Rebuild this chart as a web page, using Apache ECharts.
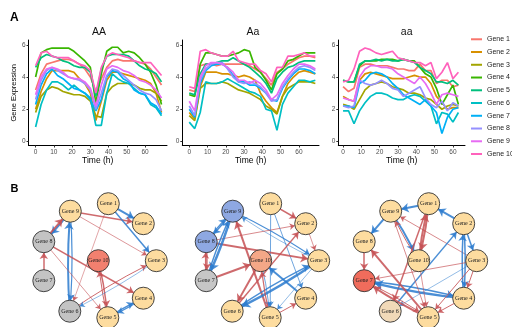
<!DOCTYPE html>
<html><head><meta charset="utf-8">
<script src="https://cdn.jsdelivr.net/npm/echarts@6/dist/echarts.min.js"></script>
<style>html,body{margin:0;padding:0;background:#fff}#c{width:512px;height:327px}</style>
</head><body><div id="c"></div>
<script>
// ---------- data ----------
const genes = ['Gene 1','Gene 2','Gene 3','Gene 4','Gene 5','Gene 6','Gene 7','Gene 8','Gene 9','Gene 10'];
const geneColors = ['#F8766D','#D89000','#A3A500','#39B600','#00BF7D','#00BFC4','#00B0F6','#9590FF','#E76BF3','#FF62BC'];
const panelTitles = ['AA','Aa','aa'];
const xTickValues = [0,10,20,30,40,50,60];
const yTickValues = [0,2,4,6];

const timesAA = [0,3,6,9,12,15,18,21,24,27,30,33,36,39,42,45,48,51,54,57,60,63,66,69];
const timesAa = [0,3,6,9,12,15,18,21,24,27,30,33,36,39,42,45,48,51,54,57,60,63,66,69];
const timesaa = [0,3,6,9,12,15,18,21,24,27,30,33,36,39,42,45,48,51,54,57,60,63];

const exprAA = [
  [3.2,4.2,4.8,4.9,5.0,5.1,5.1,5.0,4.8,4.5,4.0,3.1,3.9,4.6,5.0,5.1,5.0,5.0,5.0,4.9,4.8,4.5,4.0,3.5],
  [2.0,3.1,3.9,4.4,4.4,4.4,4.4,4.3,3.9,3.6,3.0,1.3,2.5,3.8,4.3,4.3,4.2,4.1,4.0,3.9,3.8,3.6,3.0,1.8],
  [1.8,2.8,3.2,3.4,3.3,3.1,3.0,2.9,2.9,2.8,2.5,1.6,1.5,3.0,3.4,3.6,3.6,3.6,3.5,3.3,3.2,3.2,3.0,2.5],
  [4.0,5.5,5.7,5.8,5.8,5.8,5.8,5.6,5.3,5.0,4.6,2.4,4.2,5.6,5.85,5.85,5.5,5.6,5.5,5.2,4.8,4.3,3.5,2.3],
  [4.6,5.2,5.4,5.3,5.2,5.0,4.9,4.7,4.6,4.6,4.3,2.8,4.5,5.3,5.4,5.4,5.4,5.3,5.0,4.7,4.5,4.4,4.2,3.7],
  [0.9,2.3,3.2,3.7,3.7,3.5,3.2,3.5,3.2,3.0,2.7,1.0,1.0,3.0,4.2,3.9,3.7,3.6,3.3,3.0,2.9,2.3,2.1,1.6],
  [2.3,3.5,4.2,4.5,4.1,3.9,3.6,3.3,3.2,3.0,2.6,1.9,2.6,4.0,4.4,4.3,3.9,3.7,3.2,3.0,2.9,2.4,2.2,1.7],
  [2.6,3.8,4.4,4.6,4.4,4.2,4.0,3.9,3.8,3.6,3.2,2.0,3.0,4.1,4.5,4.4,4.1,3.8,3.5,3.2,3.0,2.9,2.6,1.9],
  [2.9,4.0,4.5,4.6,4.5,4.3,4.0,3.9,3.9,3.7,3.3,2.2,3.5,4.5,4.7,4.6,4.4,4.3,4.1,3.8,3.7,3.5,3.2,2.7],
  [4.7,5.5,5.6,5.3,5.2,5.2,5.2,5.0,4.8,4.7,4.4,3.0,4.6,5.3,5.5,5.4,5.3,5.2,5.0,4.9,4.9,4.9,4.5,4.1]
];
const exprAa = [
  [3.2,3.1,4.7,4.8,4.8,4.7,4.8,4.8,4.8,4.8,4.8,4.7,4.5,4.3,3.9,3.5,4.3,4.5,4.8,5.0,5.2,5.3,5.3,5.2],
  [1.8,1.4,3.4,4.3,4.3,4.3,4.2,4.2,4.1,4.0,4.1,4.0,3.8,3.0,2.5,2.1,1.8,2.8,3.6,4.0,4.3,4.4,4.3,4.2],
  [1.6,1.3,3.3,3.6,3.6,3.6,3.7,3.6,3.4,3.2,3.1,3.0,2.8,2.6,2.2,2.0,1.7,2.8,3.3,3.5,3.7,3.7,3.7,3.6],
  [2.9,2.8,4.8,5.5,5.5,5.4,5.3,5.3,5.4,5.5,5.7,5.6,4.6,4.3,3.8,3.2,4.2,4.5,5.0,5.1,5.3,5.5,5.5,5.5],
  [3.0,2.9,4.2,4.8,4.8,4.9,5.0,5.0,5.2,5.0,4.8,4.6,4.3,4.0,3.6,3.0,3.9,4.3,4.6,4.7,4.9,5.0,5.0,5.0],
  [1.2,0.8,1.8,3.7,3.6,3.6,3.7,3.9,3.7,3.5,3.3,3.1,3.0,2.8,2.0,1.9,0.7,2.3,3.0,3.4,3.8,3.8,3.7,3.8],
  [2.0,1.5,3.6,4.4,4.7,4.8,4.8,4.6,4.1,3.7,3.7,3.5,3.5,3.3,3.0,2.6,2.5,3.3,3.8,4.2,4.5,4.5,4.4,4.2],
  [2.2,1.6,3.8,4.5,4.8,4.9,4.9,4.5,4.0,3.7,3.6,3.7,3.6,3.4,3.0,2.5,2.6,3.4,3.9,4.3,4.6,4.7,4.6,4.4],
  [2.5,1.9,4.0,4.7,4.9,4.9,4.8,4.6,4.3,3.8,3.8,3.6,3.8,3.6,3.2,2.6,2.9,3.6,4.1,4.5,4.8,4.8,4.7,4.5],
  [3.4,3.3,5.6,5.7,5.5,5.4,5.3,5.3,5.6,5.0,4.9,4.8,4.8,4.4,4.2,3.7,4.6,4.6,5.3,5.3,5.4,5.5,5.3,5.3]
];
const expraa = [
  [3.4,3.1,3.3,4.6,4.8,4.8,4.7,4.7,4.7,4.6,4.5,4.5,4.4,4.4,4.8,4.4,4.4,3.6,3.8,3.8,3.4,3.5],
  [2.8,2.6,2.5,3.8,4.2,4.3,4.2,4.1,4.0,3.9,3.9,3.9,4.0,4.1,4.0,4.0,3.6,2.8,2.4,2.0,2.1,2.1],
  [2.3,2.2,2.0,2.6,3.2,3.5,3.6,3.7,3.6,3.4,3.3,3.2,3.0,3.0,2.9,2.7,2.6,2.3,2.0,2.2,2.3,2.2],
  [3.8,3.7,3.7,4.7,5.0,5.0,5.0,5.1,5.1,5.1,5.0,5.1,5.0,5.0,4.6,4.2,4.0,3.3,2.3,2.9,3.5,2.3],
  [3.8,3.7,3.7,4.8,5.0,5.0,5.1,5.0,5.1,5.0,5.0,5.1,5.0,4.9,4.6,4.4,4.2,3.7,3.7,3.6,3.8,3.5],
  [1.9,1.9,1.1,1.9,2.4,2.8,3.0,3.0,2.9,2.7,2.6,2.6,2.8,2.9,2.8,2.5,2.2,1.1,1.8,1.7,1.2,1.8],
  [2.2,2.2,2.1,3.6,3.8,4.2,4.3,4.2,4.0,3.6,3.3,2.9,2.7,2.5,2.3,2.6,2.2,1.8,0.5,1.5,2.0,2.1],
  [2.2,2.1,2.2,3.8,3.6,3.5,3.6,3.8,3.6,3.3,3.2,2.8,3.0,3.2,3.4,2.7,2.3,2.1,2.5,1.9,2.4,2.2],
  [2.7,2.6,2.5,4.0,4.5,4.7,4.7,4.6,4.6,4.5,4.2,4.0,3.8,3.6,4.0,3.6,3.0,2.3,2.9,3.0,2.9,2.8],
  [3.7,3.8,4.5,5.6,5.8,5.7,5.5,5.4,5.5,5.6,5.2,5.1,5.0,4.9,4.9,4.7,4.9,3.9,4.3,4.9,3.9,4.3]
];

// network node layout (same ring layout in all three networks)
const nodeLayoutX = [10, 45, 58, 45, 9.5, -28.5, -54.5, -54.5, -28, 0];
const nodeLayoutY = [-57, -37, 0, 37.5, 57, 50.5, 20, -19, -49.5, 0];
const nodeColorsAA = ['#FDDC9F','#FDDC9F','#FDDC9F','#FDDC9F','#FDDC9F','#C3C3C3','#C3C3C3','#C3C3C3','#FDDC9F','#F2806F'];
const nodeColorsAa = ['#FDDC9F','#FDDC9F','#FDDC9F','#FDDC9F','#FDDC9F','#FDDC9F','#C6C6C6','#8EA8E2','#8EA8E2','#F4A787'];
const nodeColorsaa = ['#FDDC9F','#FDDC9F','#FDDC9F','#FDDC9F','#FDDC9F','#F1D9B8','#F06C5C','#FDDC9F','#FDDC9F','#FDDC9F'];
// edges: [source, target, sign (+1 red / -1 blue), strength]
const edgesAA = [
  ['Gene 1','Gene 2',-1,2],['Gene 9','Gene 2',1,1.5],['Gene 1','Gene 3',-1,1.5],['Gene 1','Gene 6',1,0.6],
  ['Gene 9','Gene 3',1,0.7],['Gene 9','Gene 8',-1,2],['Gene 8','Gene 9',1,2],['Gene 6','Gene 9',-1,2],
  ['Gene 9','Gene 6',-1,1.2],['Gene 7','Gene 8',1,1.5],['Gene 8','Gene 4',1,1.5],['Gene 8','Gene 5',1,0.7],
  ['Gene 10','Gene 5',1,1.5],['Gene 5','Gene 10',1,1],['Gene 5','Gene 4',-1,1.5],['Gene 4','Gene 5',-1,1.2],
  ['Gene 6','Gene 3',1,1],['Gene 3','Gene 6',-1,0.6]
];
const edgesAa = [
  ['Gene 1','Gene 2',1,1.5],['Gene 1','Gene 5',-1,0.8],['Gene 1','Gene 4',-1,0.8],['Gene 9','Gene 3',-1,1.2],
  ['Gene 3','Gene 9',-1,0.6],['Gene 8','Gene 2',1,0.8],['Gene 8','Gene 3',1,2],['Gene 9','Gene 8',-1,1.5],
  ['Gene 8','Gene 9',-1,1.2],['Gene 9','Gene 7',-1,2.5],['Gene 7','Gene 9',-1,1.5],['Gene 8','Gene 7',1,1.5],
  ['Gene 7','Gene 8',1,1.2],['Gene 7','Gene 10',1,2],['Gene 5','Gene 9',1,2],['Gene 10','Gene 6',1,2],
  ['Gene 6','Gene 2',1,1.5],['Gene 3','Gene 6',-1,2.5],['Gene 6','Gene 3',-1,1.5],['Gene 4','Gene 10',-1,2],
  ['Gene 3','Gene 5',-1,0.6],['Gene 5','Gene 4',1,1],['Gene 2','Gene 3',1,0.7],['Gene 10','Gene 5',-1,0.8],
  ['Gene 5','Gene 10',1,1.2]
];
const edgesaa = [
  ['Gene 1','Gene 9',-1,2],['Gene 2','Gene 1',-1,2],['Gene 9','Gene 8',-1,2],['Gene 8','Gene 7',1,1.5],
  ['Gene 9','Gene 10',-1,2],['Gene 10','Gene 9',1,1],['Gene 1','Gene 10',1,2],['Gene 10','Gene 1',1,2],
  ['Gene 1','Gene 6',1,1.5],['Gene 3','Gene 9',1,0.8],['Gene 2','Gene 4',-1,1.5],['Gene 4','Gene 2',-1,1.5],
  ['Gene 2','Gene 3',-1,1.5],['Gene 6','Gene 2',-1,1.5],['Gene 3','Gene 7',1,0.8],['Gene 3','Gene 6',-1,0.6],
  ['Gene 4','Gene 7',-1,2.5],['Gene 7','Gene 4',-1,1.5],['Gene 5','Gene 7',1,2],['Gene 5','Gene 8',1,2],
  ['Gene 3','Gene 4',1,1],['Gene 3','Gene 5',1,1],['Gene 4','Gene 5',1,1],['Gene 9','Gene 5',1,0.8],
  ['Gene 10','Gene 5',1,0.7],['Gene 7','Gene 5',1,1]
];

// ---------- layout / style ----------
const SANS = 'Liberation Sans, Arial, sans-serif';
const SERIF = 'Liberation Serif, Times New Roman, serif';
const lineGrids = [
  {left:28.5, top:40, width:138.5, height:105.5, xmin:-3.9, xmax:72},
  {left:182.3, top:40, width:136.7, height:105.5, xmin:-3.8, xmax:71},
  {left:338.3, top:40, width:126.7, height:105.5, xmin:-2.6, xmax:66.6}
];
const netCenters = [[98.3,260.7],[260.7,260.7],[418.7,260.7]];
const titlePos = [[99,31.7],[253,31.7],[406.7,31.7]];
const RED = 'rgba(197,80,84,0.85)';
const BLUE = 'rgba(42,122,206,0.85)';

const grid = [], xAxis = [], yAxis = [], series = [];
const timesAll = [timesAA, timesAa, timesaa];
const exprAll = [exprAA, exprAa, expraa];

lineGrids.forEach((g, p) => {
  grid.push({left:g.left, top:g.top, width:g.width, height:g.height, containLabel:false});
  xAxis.push({
    gridIndex:p, type:'value', min:g.xmin, max:g.xmax,
    axisLine:{show:true, onZero:false, lineStyle:{color:'#000', width:1}},
    splitLine:{show:false},
    axisTick:{show:true, length:2, customValues:xTickValues, lineStyle:{color:'#333'}},
    axisLabel:{customValues:xTickValues, fontSize:6.5, color:'#4d4d4d', margin:3, fontFamily:SANS},
    name:'Time (h)', nameLocation:'middle', nameGap:11,
    nameTextStyle:{fontSize:8.5, color:'#000', fontFamily:SANS}
  });
  yAxis.push({
    gridIndex:p, type:'value', min:-0.25, max:6.3,
    axisLine:{show:true, onZero:false, lineStyle:{color:'#000', width:1}},
    splitLine:{show:false},
    axisTick:{show:true, length:2, customValues:yTickValues, lineStyle:{color:'#333'}},
    axisLabel:{customValues:yTickValues, fontSize:6.5, color:'#4d4d4d', margin:3, fontFamily:SANS},
    name: p === 0 ? 'Gene Expression' : '', nameLocation:'middle', nameGap:9,
    nameTextStyle:{fontSize:7.5, color:'#000', fontFamily:SANS}
  });
  genes.forEach((gn, i) => {
    series.push({
      type:'line', name:gn, xAxisIndex:p, yAxisIndex:p,
      data: timesAll[p].map((t, k) => [t, exprAll[p][i][k]]),
      showSymbol:false, symbol:'none', color:geneColors[i],
      lineStyle:{width:1.7, color:geneColors[i]}, silent:true, animation:false
    });
  });
});

const nodeColorsAll = [nodeColorsAA, nodeColorsAa, nodeColorsaa];
const edgesAll = [edgesAA, edgesAa, edgesaa];
netCenters.forEach((c, n) => {
  const gi = 3 + n;
  grid.push({left:c[0]-60, top:c[1]-60, width:120, height:120});
  xAxis.push({gridIndex:gi, type:'value', min:-60, max:60, show:false});
  yAxis.push({gridIndex:gi, type:'value', min:-60, max:60, inverse:true, show:false});
  const edges = edgesAll[n];
  const hasReverse = (s, t) => edges.some(e => e[0] === t && e[1] === s);
  series.push({
    type:'graph', coordinateSystem:'cartesian2d', xAxisIndex:gi, yAxisIndex:gi,
    symbol:'circle', symbolSize:22, animation:false, silent:true,
    edgeSymbol:['none','arrow'],
    label:{show:true, position:'inside', fontSize:6, color:'#222', fontFamily:SERIF},
    itemStyle:{borderColor:'#333', borderWidth:0.9},
    data: genes.map((gn, i) => ({name:gn, value:[nodeLayoutX[i], nodeLayoutY[i]],
      itemStyle:{color:nodeColorsAll[n][i]}})),
    links: edges.map(e => ({
      source:e[0], target:e[1],
      symbolSize:[0, 4 + e[3]*1.6],
      lineStyle:{color: e[2] > 0 ? RED : BLUE, width:e[3], opacity:1,
        curveness: hasReverse(e[0], e[1]) ? 0.04 : 0}
    }))
  });
});

const option = {
  animation:false,
  backgroundColor:'#fff',
  textStyle:{fontFamily:SANS},
  grid, xAxis, yAxis, series,
  legend:{
    data:genes, orient:'vertical', left:471, top:33.9, padding:0,
    icon:'rect', itemWidth:11, itemHeight:2, itemGap:2,
    textStyle:{fontSize:7, color:'#222', lineHeight:10.75, fontFamily:SANS},
    selectedMode:false
  },
  graphic:[
    {type:'text', x:10, y:17.5, style:{text:'A', font:'bold 12px ' + SANS, fill:'#000', textVerticalAlign:'middle'}},
    {type:'text', x:10.5, y:188.5, style:{text:'B', font:'bold 11px ' + SANS, fill:'#000', textVerticalAlign:'middle'}}
  ].concat(panelTitles.map((t, p) => ({
    type:'text', x:titlePos[p][0], y:titlePos[p][1],
    style:{text:t, font:'10.5px ' + SANS, fill:'#111', textAlign:'center', textVerticalAlign:'middle'}
  })))
};

const chart = echarts.init(document.getElementById('c'), null, {renderer:'canvas'});
chart.setOption(option);
</script>
</body></html>
